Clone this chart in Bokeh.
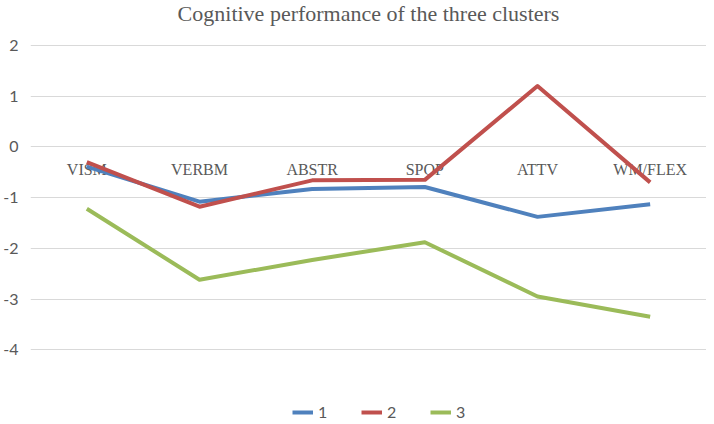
from bokeh.plotting import figure
from bokeh.models import FactorRange, Range1d, FixedTicker, Legend, LegendItem, ColumnDataSource
from bokeh.core.properties import value
from bokeh.embed import file_html
from bokeh.resources import INLINE

categories = ["VISM", "VERBM", "ABSTR", "SPOP", "ATTV", "WM/FLEX"]
cluster1 = [-0.39, -1.08, -0.83, -0.79, -1.38, -1.13]
cluster2 = [-0.30, -1.18, -0.66, -0.65, 1.20, -0.70]
cluster3 = [-1.22, -2.62, -2.23, -1.88, -2.95, -3.35]
series_names = ["1", "2", "3"]
series_colors = ["#4F81BD", "#C0504D", "#9BBB59"]
y_ticks = [-4, -3, -2, -1, 0, 1, 2]
title_text = "Cognitive performance of the three clusters"

GRAY = "#595959"

p = figure(
    frame_width=676, frame_height=394,
    x_range=FactorRange(*categories, range_padding=0),
    y_range=Range1d(-5.416, 2.355),
    output_backend="svg", toolbar_location=None,
    min_border_left=22, min_border_right=0, min_border_top=19, min_border_bottom=2,
    title=title_text,
)
p.outline_line_color = None
p.background_fill_color = "white"
p.border_fill_color = "white"

p.title.align = "center"
p.title.vertical_align = "top"
p.title.text_font = "Liberation Serif"
p.title.text_font_size = "22px"
p.title.text_font_style = "normal"
p.title.text_color = GRAY
p.title.offset = 0
p.title.standoff = 0

p.xaxis.visible = False
p.xgrid.grid_line_color = None

p.yaxis.ticker = FixedTicker(ticks=y_ticks)
p.yaxis.major_label_overrides = {t: str(t) for t in y_ticks}
p.yaxis.axis_line_color = None
p.yaxis.major_tick_line_color = None
p.yaxis.minor_tick_line_color = None
p.yaxis.major_label_text_font = "Lato"
p.yaxis.major_label_text_font_size = "16px"
p.yaxis.major_label_text_color = GRAY
p.yaxis.major_label_standoff = 6
p.ygrid.ticker = FixedTicker(ticks=y_ticks)
p.ygrid.grid_line_color = "#D9D9D9"
p.ygrid.grid_line_width = 1

# category labels drawn along the zero line
lab_src = ColumnDataSource(dict(x=categories, y=[0] * len(categories), t=categories))
p.text(x="x", y="y", text="t", source=lab_src, text_align="center", text_baseline="middle",
       y_offset=23, text_font=value("Liberation Serif"), text_font_size="16px", text_color=GRAY)

items = []
for name, vals, col in zip(series_names, [cluster1, cluster2, cluster3], series_colors):
    r = p.line(categories, vals, line_color=col, line_width=4, line_join="round", line_cap="butt")
    items.append(LegendItem(label=name, renderers=[r]))

legend = Legend(items=items, orientation="horizontal", location=(262, 0))
legend.border_line_color = None
legend.background_fill_alpha = 0
legend.margin = 0
legend.padding = 0
legend.glyph_width = 21
legend.label_standoff = 5
legend.spacing = 23
legend.label_text_font = "Lato"
legend.label_text_font_size = "16px"
legend.label_text_color = GRAY
legend.label_height = 16
legend.glyph_height = 16
p.add_layout(legend, "center")

open("out.html", "w").write(file_html(p, INLINE))
